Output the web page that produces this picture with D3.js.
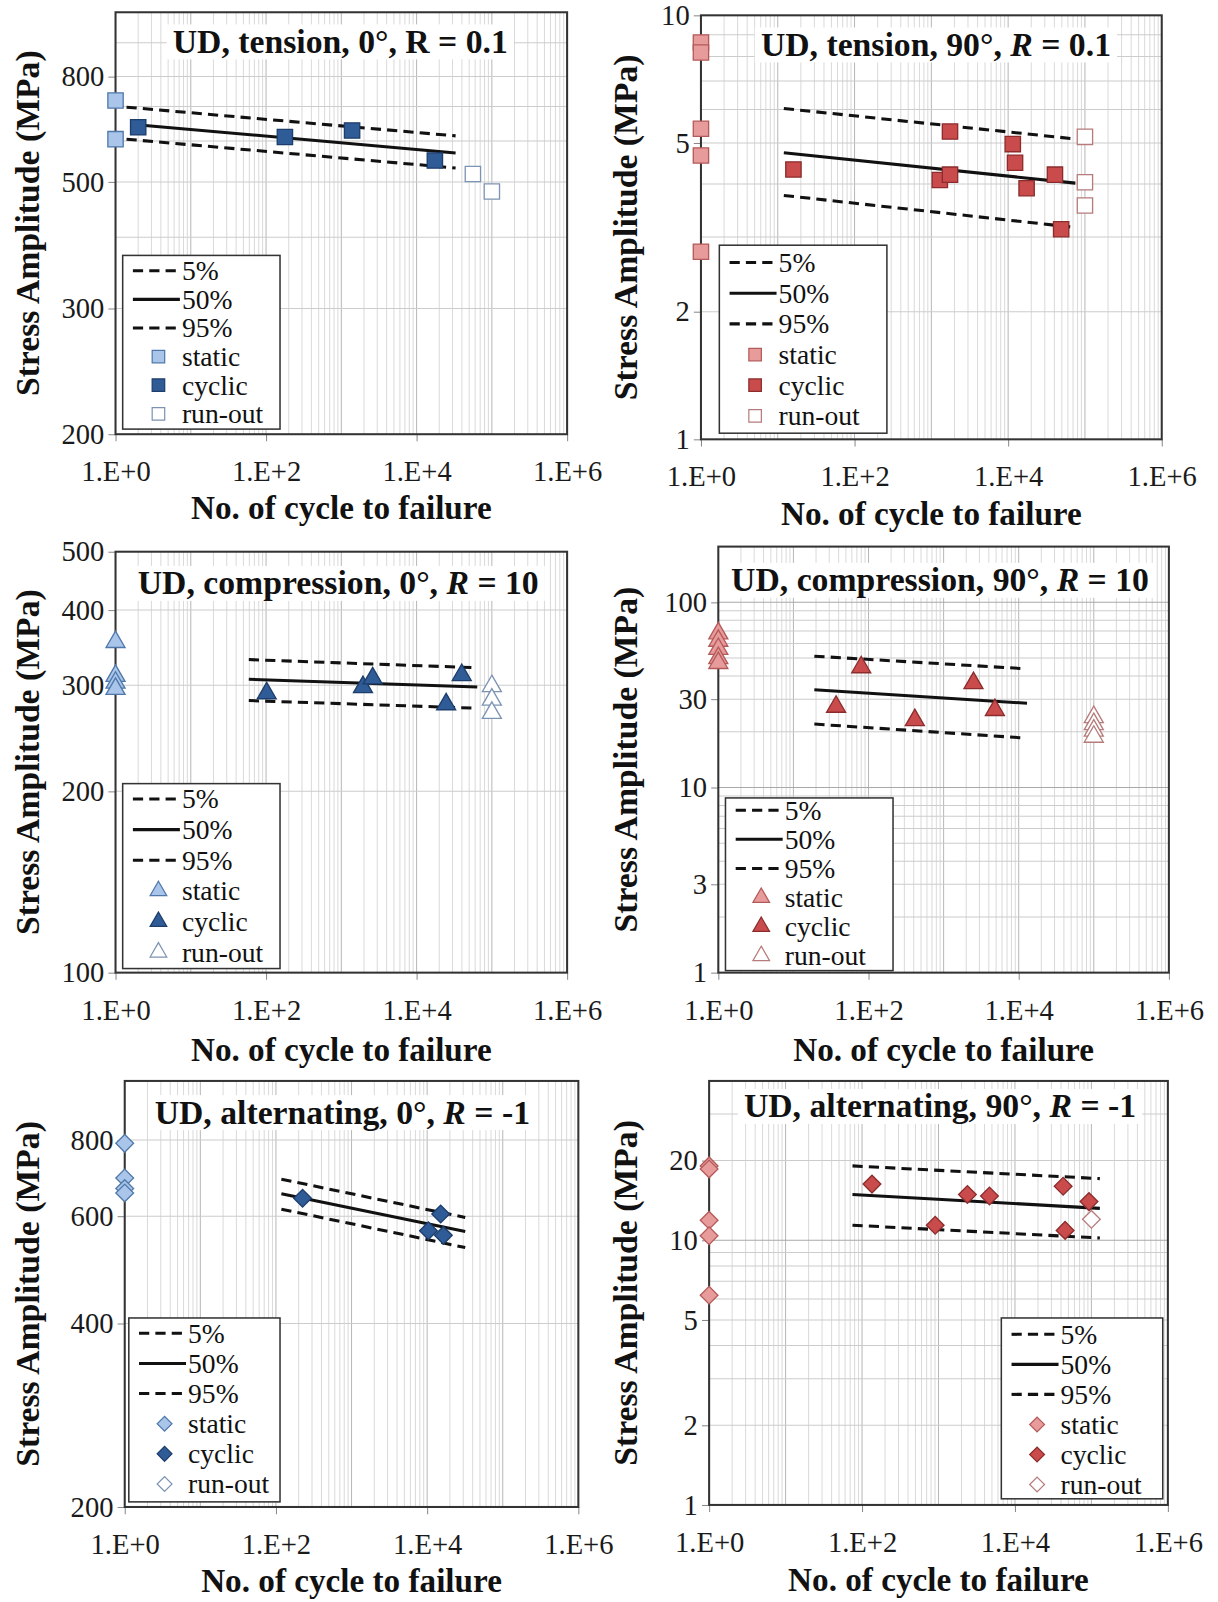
<!DOCTYPE html>
<html>
<head>
<meta charset="utf-8">
<script src="https://cdn.jsdelivr.net/npm/d3@7"></script>
<style>
  body { margin: 0; background: #fff; }
  svg text { white-space: pre; }
</style>
</head>
<body>
<div id="chart"></div>
<script>
// values (N = cycles, S = stress amplitude in MPa)
const xTickValues = [1, 1e2, 1e4, 1e6];
const xTickLabels = ["1.E+0", "1.E+2", "1.E+4", "1.E+6"];
const legendLabels = ["5%", "50%", "95%", "static", "cyclic", "run-out"];

// UD, tension, 0°
const tens0YTicks = [200, 300, 500, 800];
const tens0Static = [[1, 719], [1, 605]];
const tens0Cyclic = [[2, 638], [178, 611], [1390, 629], [17500, 550]];
const tens0Runout = [[56000, 518], [100000, 481]];
const tens0Q05 = [[1.4, 698], [33000, 614]];
const tens0Q50 = [[1.6, 647], [33000, 569]];
const tens0Q95 = [[1.4, 605], [33000, 532]];

// UD, tension, 90°
const tens90YTicks = [1, 2, 5, 10];
const tens90Static = [[1, 8.63], [1, 8.17], [1, 5.40], [1, 4.67], [1, 2.77]];
const tens90Cyclic = [[16, 4.33], [1290, 4.09], [1750, 4.21], [1750, 5.32], [11500, 4.97],
                      [12300, 4.49], [17400, 3.91], [40700, 4.21], [49000, 3.13]];
const tens90Runout = [[1e5, 5.17], [1e5, 4.04], [1e5, 3.56]];
const tens90Q05 = [[12, 6.03], [75000, 5.11]];
const tens90Q50 = [[12, 4.74], [75000, 4.02]];
const tens90Q95 = [[12, 3.76], [75000, 3.16]];

// UD, compression, 0°
const comp0YTicks = [100, 200, 300, 400, 500];
const comp0Static = [[1, 354], [1, 311], [1, 303], [1, 296]];
const comp0Cyclic = [[102, 291], [1940, 298], [2610, 308], [24700, 279], [39800, 312]];
const comp0Runout = [[1e5, 299], [1e5, 284], [1e5, 270]];
const comp0Q05 = [[59, 331], [57000, 321]];
const comp0Q50 = [[59, 307], [64000, 298]];
const comp0Q95 = [[59, 283], [57000, 275]];

// UD, compression, 90°
const comp90YTicks = [1, 3, 10, 30, 100];
const comp90Static = [[1, 68], [1, 62], [1, 56], [1, 50], [1, 47]];
const comp90Cyclic = [[37, 27.3], [80, 44.6], [414, 23.1], [2500, 36.6], [4820, 26.2]];
const comp90Runout = [[1e5, 24], [1e5, 22], [1e5, 20.3], [1e5, 18.8]];
const comp90Q05 = [[19, 51.2], [12200, 43.8]];
const comp90Q50 = [[19, 33.7], [12900, 28.5]];
const comp90Q95 = [[19, 22.0], [12200, 18.5]];

// UD, alternating, 0°
const alt0YTicks = [200, 400, 600, 800];
const alt0Static = [[1, 790], [1, 693], [1, 666], [1, 655]];
const alt0Cyclic = [[225, 642], [10400, 568], [15100, 605], [16400, 558]];
const alt0Runout = [];
const alt0Q05 = [[118, 690], [31900, 597]];
const alt0Q50 = [[118, 653], [31900, 566]];
const alt0Q95 = [[118, 616], [31900, 533]];

// UD, alternating, 90°
const alt90YTicks = [1, 2, 5, 10, 20];
const alt90Static = [[1, 19.1], [1, 18.6], [1, 11.9], [1, 10.4], [1, 6.2]];
const alt90Cyclic = [[135, 16.3], [906, 11.4], [2390, 14.9], [4640, 14.7], [42700, 16.0],
                     [45300, 10.9], [93000, 14.0]];
const alt90Runout = [[1e5, 12.0]];
const alt90Q05 = [[75, 19.1], [129000, 17.1]];
const alt90Q50 = [[75, 14.9], [129000, 13.2]];
const alt90Q95 = [[75, 11.4], [129000, 10.2]];

const FONT = '"Liberation Serif", "Times New Roman", serif';

const colors = {
  blue: { stat: ["#a9c5e9", "#5078aa"], cyc: ["#2f5b96", "#1d3d6b"], run: ["#ffffff", "#7d93b4"] },
  red:  { stat: ["#e89b9b", "#b45a5a"], cyc: ["#c94b4b", "#8c2c2c"], run: ["#ffffff", "#b77b7b"] }
};

const panels = [
  { box: [113, 12, 555, 425], yDomain: [200, 300, 500, 800, 1000], yFrac: [1, 0.702, 0.402, 0.1525, 0],
    yTicks: tens0YTicks, yGrid: d3.range(300, 1000, 100),
    title: [["UD, tension, 0°, R = 0.1", false]], titleXY: [333, 40],
    yTitleX: 27, xTitleY: 497, color: "blue", shape: "square",
    legend: { x: 120, y: 250, w: 154, h: 170, top: 15, step: 28 },
    stat: tens0Static, cyc: tens0Cyclic, run: tens0Runout, q05: tens0Q05, q50: tens0Q50, q95: tens0Q95 },
  { box: [686, 15, 1137, 430], yDomain: [1, 10], yFrac: [1, 0],
    yTicks: tens90YTicks, yGrid: d3.range(2, 10),
    title: [["UD, tension, 90°, ", false], ["R", true], [" = 0.1", false]], titleXY: [916, 43],
    yTitleX: 612, xTitleY: 503, color: "red", shape: "square",
    legend: { x: 704, y: 240, w: 164, h: 184, top: 17, step: 30 },
    stat: tens90Static, cyc: tens90Cyclic, run: tens90Runout, q05: tens90Q05, q50: tens90Q50, q95: tens90Q95 },
  { box: [113, 540, 555, 952], yDomain: [100, 500], yFrac: [1, 0],
    yTicks: comp0YTicks, yGrid: [200, 300, 400],
    title: [["UD, compression, 0°, ", false], ["R", true], [" = 10", false]], titleXY: [331, 570],
    yTitleX: 27, xTitleY: 1027, color: "blue", shape: "triangle",
    legend: { x: 120, y: 767, w: 154, h: 181, top: 15, step: 30 },
    stat: comp0Static, cyc: comp0Cyclic, run: comp0Runout, q05: comp0Q05, q50: comp0Q50, q95: comp0Q95 },
  { box: [703, 535, 1144, 952], yDomain: [1, 200], yFrac: [1, 0],
    yTicks: comp90YTicks, yGrid: d3.range(2, 10).concat(d3.range(10, 100, 10), [100]),
    title: [["UD, compression, 90°, ", false], ["R", true], [" = 10", false]], titleXY: [920, 567],
    yTitleX: 612, xTitleY: 1027, color: "red", shape: "triangle",
    legend: { x: 710, y: 781, w: 164, h: 169, top: 12, step: 28.5 },
    stat: comp90Static, cyc: comp90Cyclic, run: comp90Runout, q05: comp90Q05, q50: comp90Q50, q95: comp90Q95 },
  { box: [122, 1058, 566, 1475], yDomain: [200, 1000], yFrac: [1, 0],
    yTicks: alt0YTicks, yGrid: [400, 600, 800],
    title: [["UD, alternating, 0°, ", false], ["R", true], [" = -1", false]], titleXY: [335, 1088],
    yTitleX: 27, xTitleY: 1547, color: "blue", shape: "diamond",
    legend: { x: 126, y: 1290, w: 148, h: 180, top: 15, step: 29.5 },
    stat: alt0Static, cyc: alt0Cyclic, run: alt0Runout, q05: alt0Q05, q50: alt0Q50, q95: alt0Q95 },
  { box: [694, 1058, 1143, 1473], yDomain: [1, 40], yFrac: [1, 0],
    yTicks: alt90YTicks, yGrid: d3.range(2, 10).concat([10, 20, 30]),
    title: [["UD, alternating, 90°, ", false], ["R", true], [" = -1", false]], titleXY: [920, 1082],
    yTitleX: 612, xTitleY: 1546, color: "red", shape: "diamond",
    legend: { x: 980, y: 1290, w: 158, h: 177, top: 16, step: 29.4 },
    stat: alt90Static, cyc: alt90Cyclic, run: alt90Runout, q05: alt90Q05, q50: alt90Q50, q95: alt90Q95 }
];

const svg = d3.select("#chart").append("svg")
  .attr("width", 1218).attr("height", 1602)
  .attr("viewBox", "0 0 1192 1568");

const isDecade = v => Math.abs(Math.log10(v) - Math.round(Math.log10(v))) < 1e-9;

// marker shapes: big for data, small for the legend
function symbolPath(shape, big) {
  if (shape === "triangle") return d3.symbol().type(d3.symbolTriangle).size(big ? 150 : 115)();
  if (shape === "diamond") return d3.symbol().type(d3.symbolSquare).size(big ? 150 : 105)();
  return d3.symbol().type(d3.symbolSquare).size(big ? 225 : 150)();
}
const rotation = shape => shape === "diamond" ? " rotate(45)" : "";

function drawPanel(p) {
  const [x0, y0, x1, y1] = p.box;
  const g = svg.append("g");
  const pal = colors[p.color];

  const x = d3.scaleLog().domain([1, 1e6]).range([x0, x1]);
  const y = d3.scaleLog().domain(p.yDomain).range(p.yFrac.map(f => y0 + f * (y1 - y0)));

  // grid
  const xGrid = [];
  for (let d = 0; d < 6; d++) for (let k = 1; k < 10; k++) xGrid.push(k * Math.pow(10, d));
  xGrid.push(1e6);
  g.append("g").selectAll("line").data(xGrid).join("line")
    .attr("x1", d => x(d)).attr("x2", d => x(d))
    .attr("y1", y0).attr("y2", y1)
    .attr("stroke", d => isDecade(d) ? "#b8b8b8" : "#dadada").attr("stroke-width", 1);
  g.append("g").selectAll("line").data(p.yGrid).join("line")
    .attr("x1", x0).attr("x2", x1)
    .attr("y1", d => y(d)).attr("y2", d => y(d))
    .attr("stroke", d => isDecade(d) ? "#a8a8a8" : "#cccccc").attr("stroke-width", 1);

  // axes
  const xAxis = g.append("g").attr("transform", `translate(0,${y1})`)
    .call(d3.axisBottom(x).tickValues(xTickValues).tickFormat((d, i) => xTickLabels[i])
      .tickSize(7).tickPadding(19));
  const yAxis = g.append("g").attr("transform", `translate(${x0},0)`)
    .call(d3.axisLeft(y).tickValues(p.yTicks).tickFormat(d3.format("d"))
      .tickSize(7).tickPadding(4));
  [xAxis, yAxis].forEach(a => {
    a.select(".domain").remove();
    a.selectAll(".tick line").attr("stroke", "#888");
    a.selectAll("text").attr("font-size", 28).attr("font-family", FONT).attr("fill", "#1a1a1a");
  });

  g.append("rect").attr("x", x0).attr("y", y0)
    .attr("width", x1 - x0).attr("height", y1 - y0)
    .attr("fill", "none").attr("stroke", "#333").attr("stroke-width", 2);

  // panel title with white box behind it
  const title = g.append("text")
    .attr("x", p.titleXY[0]).attr("y", p.titleXY[1])
    .attr("text-anchor", "middle").attr("dominant-baseline", "central")
    .attr("font-family", FONT).attr("font-size", 33).attr("font-weight", "bold").attr("fill", "#111");
  p.title.forEach(([s, it]) => title.append("tspan").text(s).attr("font-style", it ? "italic" : null));
  const bb = title.node().getBBox();
  g.insert("rect", () => title.node())
    .attr("x", bb.x - 6).attr("y", bb.y + 2).attr("width", bb.width + 12).attr("height", bb.height - 2)
    .attr("fill", "#fff");

  // axis titles
  g.append("text")
    .attr("x", (x0 + x1) / 2).attr("y", p.xTitleY)
    .attr("text-anchor", "middle").attr("dominant-baseline", "central")
    .attr("font-family", FONT).attr("font-size", 32.5).attr("font-weight", "bold").attr("fill", "#111")
    .text("No. of cycle to failure");
  g.append("text")
    .attr("transform", `translate(${p.yTitleX},${(y0 + y1) / 2}) rotate(-90)`)
    .attr("text-anchor", "middle").attr("dominant-baseline", "central")
    .attr("font-family", FONT).attr("font-size", 33).attr("font-weight", "bold").attr("fill", "#111")
    .text("Stress Amplitude (MPa)");

  // regression bands
  const line = d3.line().x(d => x(d[0])).y(d => y(d[1]));
  [[p.q05, "10,6"], [p.q50, null], [p.q95, "10,6"]].forEach(([pts, dash]) => {
    g.append("path").datum(pts).attr("d", line)
      .attr("fill", "none").attr("stroke", "#111").attr("stroke-width", 3)
      .attr("stroke-dasharray", dash);
  });

  // test points
  [[p.stat, pal.stat], [p.cyc, pal.cyc], [p.run, pal.run]].forEach(([pts, c]) => {
    g.append("g").selectAll("path").data(pts).join("path")
      .attr("transform", d => `translate(${x(d[0])},${y(d[1])})${rotation(p.shape)}`)
      .attr("d", symbolPath(p.shape, true))
      .attr("fill", c[0]).attr("stroke", c[1]).attr("stroke-width", 1.3);
  });

  // legend
  const lg = p.legend;
  const L = g.append("g");
  L.append("rect").attr("x", lg.x).attr("y", lg.y).attr("width", lg.w).attr("height", lg.h)
    .attr("fill", "#fff").attr("stroke", "#333").attr("stroke-width", 1.5);
  legendLabels.forEach((lab, i) => {
    const cy = lg.y + lg.top + i * lg.step;
    if (i < 3) {
      L.append("line").attr("x1", lg.x + 10).attr("x2", lg.x + 56).attr("y1", cy).attr("y2", cy)
        .attr("stroke", "#111").attr("stroke-width", 3)
        .attr("stroke-dasharray", i === 1 ? null : "10,6");
    } else {
      const c = [pal.stat, pal.cyc, pal.run][i - 3];
      L.append("path")
        .attr("transform", `translate(${lg.x + 35},${cy})${rotation(p.shape)}`)
        .attr("d", symbolPath(p.shape, false))
        .attr("fill", c[0]).attr("stroke", c[1]).attr("stroke-width", 1.2);
    }
    L.append("text").attr("x", lg.x + 58).attr("y", cy)
      .attr("dominant-baseline", "central")
      .attr("font-family", FONT).attr("font-size", 27).attr("fill", "#111")
      .text(lab);
  });
}

panels.forEach(drawPanel);
</script>
</body>
</html>
